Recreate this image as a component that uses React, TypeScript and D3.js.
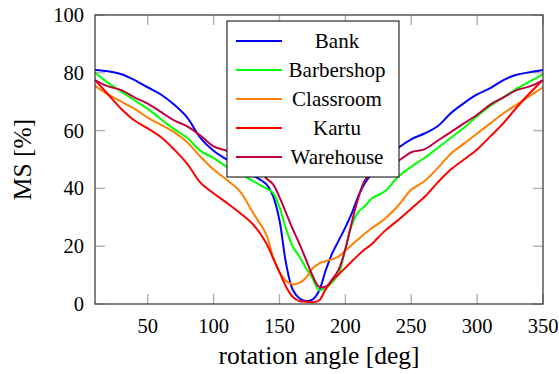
import React from 'react';
import * as d3 from 'd3';

// rotation angles (deg), denser sampling around the dip
const angles = [
  10, 20, 30, 40, 50, 60, 70, 80, 90, 100, 110, 120, 130,
  140, 145, 150, 155, 160, 165, 170, 175, 180, 185, 190, 195, 200, 205, 210, 215, 220,
  230, 240, 250, 260, 270, 280, 290, 300, 310, 320, 330, 340, 350,
];

const bank = [
  81, 80.5, 79.5, 77.5, 75, 72.5, 69, 64.5, 57.5, 53, 50, 47.4, 44.5,
  41.5, 37.5, 29, 14, 5, 2, 1, 1.5, 4.5, 11.5, 17.5, 22, 26.5, 31.5, 37.5, 42, 45,
  50, 54, 57, 59, 61.5, 66, 69.5, 72.5, 74.7, 77.5, 79.3, 80.2, 81,
];

const barbershop = [
  80, 76.5, 73.5, 70.5, 67.5, 64, 60.5, 57.5, 53, 50.5, 47.5, 45.3, 42.5,
  40, 38.5, 33.5, 26, 20, 16.5, 12.5, 9, 4.8, 5.5, 7.5, 10.5, 19, 27.5, 32, 34, 36.5,
  39, 44, 47.5, 50.5, 54, 57.5, 61, 65, 68.5, 71.5, 74.5, 77, 79.5,
];

const classroom = [
  75.5, 72.5, 70, 67.5, 64.5, 62, 59.5, 56, 51, 46.5, 43, 39, 31.5,
  24, 16.5, 11, 8, 6.8, 7.3, 9, 12.3, 14, 14.8, 15.5, 16.5, 18.5, 20.5, 22.5, 24.5, 26.2,
  29.5, 34, 39.5, 42.5, 47, 52, 55.5, 59, 62.5, 66, 69, 72, 75,
];

const kartu = [
  77.5, 72.5, 67.5, 63.5, 60.8, 57.8, 53.5, 48.5, 42, 38.3, 35, 31.5, 27.5,
  21, 16, 11, 6, 2.5, 1, 0.8, 0.6, 1.2, 5, 8.2, 10.3, 12.5, 14.8, 17, 19, 20.7,
  25.3, 29, 33, 37, 42, 46.5, 50, 53.5, 58, 62.6, 68, 73, 77.5,
];

const warehouse = [
  77.5, 75.3, 74, 71.5, 69.3, 66.5, 63.5, 61.5, 58.3, 54.5, 53, 51, 48.8,
  43.5, 41.5, 37, 31.5, 26, 21, 15.5, 10, 6, 6, 8.5, 12, 19, 28.5, 37, 43, 45.5,
  48, 49.5, 52.5, 53.5, 56.5, 59.5, 62.5, 65.5, 69, 71.5, 74, 75.3, 77.5,
];

const seriesNames = ['Bank', 'Barbershop', 'Classroom', 'Kartu', 'Warehouse'];
const seriesValues = [bank, barbershop, classroom, kartu, warehouse];
const seriesColors = ['#0000ff', '#00ff00', '#ff8000', '#ff0000', '#bf0040'];

const xTicks = [50, 100, 150, 200, 250, 300, 350];
const yTicks = [0, 20, 40, 60, 80, 100];

const W = 559;
const H = 374;
const margin = { left: 95, right: 16, top: 15, bottom: 70 };
const font = '"Liberation Serif", serif';

export default function App() {
  const x = d3.scaleLinear().domain([10, 350]).range([margin.left, W - margin.right]);
  const y = d3.scaleLinear().domain([0, 100]).range([H - margin.bottom, margin.top]);

  const line = d3
    .line<[number, number]>()
    .x(d => x(d[0]))
    .y(d => y(d[1]))
    .curve(d3.curveCatmullRom.alpha(0.5));

  const x0 = x.range()[0];
  const x1 = x.range()[1];
  const y0 = y.range()[0];
  const y1 = y.range()[1];
  const tickLen = 10;

  // legend layout
  const lg = { x: 227, y: 21, w: 172, h: 156 };
  const rowH = 29;

  return (
    <svg width={W} height={H} style={{ position: 'absolute', left: 0, top: 0 }}>
      <rect width={W} height={H} fill="#fff" />

      {/* ticks (inside, both sides) */}
      <g stroke="#b0b0b0" strokeWidth={1.4}>
        {xTicks.map(t => (
          <g key={'xt' + t}>
            <line x1={x(t)} x2={x(t)} y1={y0} y2={y0 - tickLen} />
            <line x1={x(t)} x2={x(t)} y1={y1} y2={y1 + tickLen} />
          </g>
        ))}
        {yTicks.map(t => (
          <g key={'yt' + t}>
            <line x1={x0} x2={x0 + tickLen} y1={y(t)} y2={y(t)} />
            <line x1={x1} x2={x1 - tickLen} y1={y(t)} y2={y(t)} />
          </g>
        ))}
      </g>

      {/* data lines */}
      {seriesValues.map((vals, i) => (
        <path
          key={seriesNames[i]}
          d={line(angles.map((a, j) => [a, vals[j]] as [number, number])) || ''}
          fill="none"
          stroke={seriesColors[i]}
          strokeWidth={2}
          strokeLinejoin="round"
        />
      ))}

      {/* frame */}
      <rect x={x0} y={y1} width={x1 - x0} height={y0 - y1} fill="none" stroke="#404040" strokeWidth={1.3} />

      {/* tick labels */}
      <g fontFamily={font} fontSize={20.5} fill="#000">
        {xTicks.map(t => (
          <text key={'xl' + t} x={x(t)} y={y0 + 29} textAnchor="middle">
            {t}
          </text>
        ))}
        {yTicks.map(t => (
          <text key={'yl' + t} x={x0 - 11} y={y(t) + 7} textAnchor="end">
            {t}
          </text>
        ))}
      </g>

      {/* axis labels */}
      <text x={(x0 + x1) / 2} y={364} textAnchor="middle" fontFamily={font} fontSize={25.5}>
        rotation angle [deg]
      </text>
      <text
        transform={`translate(31,${(y0 + y1) / 2}) rotate(-90)`}
        textAnchor="middle"
        fontFamily={font}
        fontSize={25.5}
      >
        MS [%]
      </text>

      {/* legend */}
      <g>
        <rect x={lg.x} y={lg.y} width={lg.w} height={lg.h} fill="#fff" stroke="#000" strokeWidth={1} />
        {seriesNames.map((name, i) => {
          const cy = lg.y + 20 + i * rowH;
          return (
            <g key={'lg' + name}>
              <line x1={lg.x + 9} x2={lg.x + 55} y1={cy} y2={cy} stroke={seriesColors[i]} strokeWidth={2} />
              <text x={337} y={cy + 7} textAnchor="middle" fontFamily={font} fontSize={21}>
                {name}
              </text>
            </g>
          );
        })}
      </g>
    </svg>
  );
}
